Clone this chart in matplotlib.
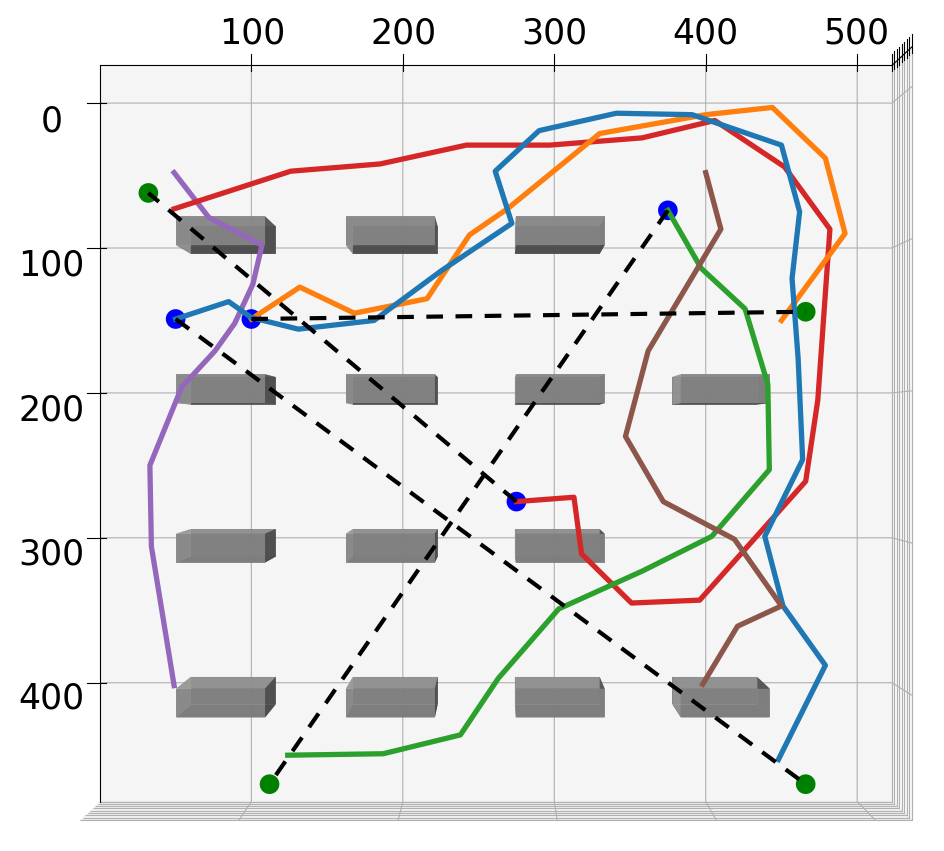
import matplotlib
matplotlib.use("Agg")
import matplotlib.pyplot as plt
import numpy as np

# ---- data ----
purple_x = [49, 72, 107, 101, 89, 76, 54, 33, 34, 49]
purple_y = [48, 79, 98, 125, 152, 171, 196, 250, 306, 402]

red_x = [275, 313, 318, 351, 396, 466, 474, 482, 452, 406, 358, 297, 242, 185, 126, 49]
red_y = [275, 272, 311, 345, 343, 261, 205, 87, 44, 12, 24, 29, 29, 42, 47, 73]

orange_x = [100, 132, 168, 216, 244, 269, 330, 400, 444, 479, 492, 450]
orange_y = [149, 127, 145, 135, 91, 73, 21, 8, 3, 38, 90, 150]

blue_x = [50, 85, 100, 131, 181, 225, 272, 261, 290, 341, 391, 450, 462, 457, 461, 464, 439, 451, 479, 448]
blue_y = [149, 137, 148, 156, 150, 116, 83, 47, 19, 7, 8, 29, 75, 121, 176, 246, 299, 347, 388, 453]

green_x = [375, 397, 426, 441, 442, 404, 358, 303, 263, 238, 187, 124]
green_y = [74, 114, 142, 194, 253, 299, 323, 349, 397, 436, 449, 450]

brown_x = [400, 410, 362, 347, 372, 419, 450, 421, 398]
brown_y = [48, 87, 171, 230, 275, 301, 347, 361, 401]

start_x = [275, 100, 50, 375]
start_y = [275, 149, 149, 74]
goal_x = [32, 466, 466, 112]
goal_y = [62, 144, 470, 470]

obst_x = [60, 167, 274, 60, 167, 274, 378, 60, 167, 274, 60, 167, 274, 378]
obst_y = [85, 85, 85, 189, 189, 189, 189, 294, 294, 294, 396, 396, 396, 396]
obst_w, obst_d, obst_h = 56, 19, 19

xticks = [100, 200, 300, 400, 500]
yticks = [0, 100, 200, 300, 400]

# ---- figure ----
fig = plt.figure(figsize=(9.44, 8.51), dpi=100)
ax = fig.add_axes([0.0132, -0.0229, 1.0, 1.0], projection='3d', computed_zorder=False)
ax.set_proj_type('persp')
ax.view_init(elev=90, azim=-90)
ax.set_box_aspect((1.076, 1.0, 0.3), zoom=1.29)

for ox, oy in zip(obst_x, obst_y):
    ax.bar3d(ox, oy, 0, obst_w, obst_d, obst_h, color='#acacac', alpha=0.82, shade=True)

z = 0
lw = 3.8
ax.plot(purple_x, purple_y, [z]*len(purple_x), color='tab:purple', lw=lw)
ax.plot(red_x, red_y, [z]*len(red_x), color='tab:red', lw=lw)
ax.plot(orange_x, orange_y, [z]*len(orange_x), color='tab:orange', lw=lw)
ax.plot(blue_x, blue_y, [z]*len(blue_x), color='tab:blue', lw=lw)
ax.plot(green_x, green_y, [z]*len(green_x), color='tab:green', lw=lw)
ax.plot(brown_x, brown_y, [z]*len(brown_x), color='tab:brown', lw=lw)

for sx, sy, gx, gy in zip(start_x, start_y, goal_x, goal_y):
    ax.plot([sx, gx], [sy, gy], [z, z], color='black', ls=(0, (4, 3)), lw=3)
ax.scatter(start_x, start_y, [z]*4, color='blue', s=200, depthshade=False, edgecolors='none')
ax.scatter(goal_x, goal_y, [z]*4, color='green', s=200, depthshade=False, edgecolors='none')

ax.set_xlim(0, 523)
ax.set_ylim(482, -26)
ax.set_zlim(0, 20)
ax.set_xticks(xticks)
ax.set_yticks(yticks)
ax.set_zticklabels([])
ax.zaxis.set_ticks_position('lower')
ax.tick_params(labelsize=25)
ax.xaxis.set_tick_params(pad=14)
ax.yaxis.set_tick_params(pad=12)

fig.savefig('out.png', dpi=100)
